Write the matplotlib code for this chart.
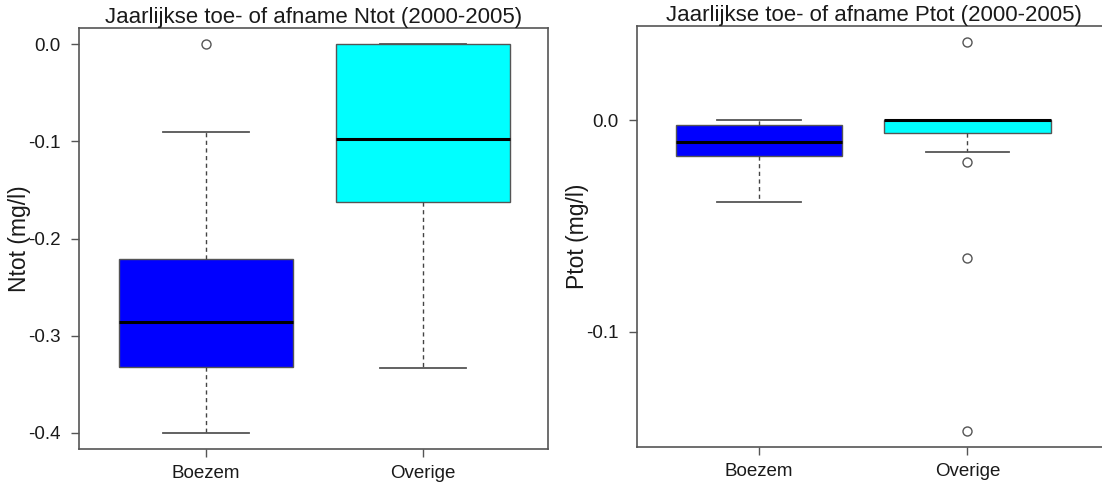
import matplotlib
matplotlib.use('Agg')
import matplotlib.pyplot as plt

plt.rcParams['font.family'] = ['Liberation Sans', 'DejaVu Sans']

groups = ['Boezem', 'Overige']
box_colors = ['#0000FF', '#00FFFF']

# Ntot: whisker low, q1, median, q3, whisker high, outliers
n_whislo = [-0.400, -0.333]
n_q1 = [-0.332, -0.1625]
n_med = [-0.2855, -0.0977]
n_q3 = [-0.221, 0.000]
n_whishi = [-0.0905, 0.000]
n_fliers = [[0.000], []]

# Ptot
p_whislo = [-0.0384, -0.0150]
p_q1 = [-0.0168, -0.0062]
p_med = [-0.0104, 0.0000]
p_q3 = [-0.0024, 0.0000]
p_whishi = [0.0000, 0.0000]
p_fliers = [[], [0.0372, -0.0199, -0.0653, -0.1471]]

n_ticks = [0.0, -0.1, -0.2, -0.3, -0.4]
p_ticks = [0.0, -0.1]

edge = '#555555'


def make_stats(lo, q1, med, q3, hi, fl):
    out = []
    for i in range(len(groups)):
        out.append(dict(whislo=lo[i], q1=q1[i], med=med[i], q3=q3[i],
                        whishi=hi[i], fliers=fl[i], label=groups[i]))
    return out


def draw(ax, stats, title, ylabel, ticks, ylim, xlim, title_pad, ylab_x):
    bp = ax.bxp(stats, positions=[1, 2], widths=0.8, patch_artist=True,
                showfliers=True,
                boxprops=dict(edgecolor=edge, linewidth=1.0),
                medianprops=dict(color='black', linewidth=2.2),
                whiskerprops=dict(color='#444444', linewidth=1.0,
                                  linestyle=(0, (3, 2.5))),
                capprops=dict(color='#555555', linewidth=1.3),
                capwidths=0.4,
                flierprops=dict(marker='o', markerfacecolor='white',
                                markeredgecolor='#555555', markersize=6.5,
                                markeredgewidth=1.0))
    for patch, c in zip(bp['boxes'], box_colors):
        patch.set_facecolor(c)
    ax.set_xlim(xlim)
    ax.set_ylim(ylim)
    ax.set_yticks(ticks)
    ax.set_yticklabels(['%.1f' % t for t in ticks])
    ax.set_xticks([1, 2])
    ax.set_xticklabels(groups)
    ax.tick_params(axis='both', labelsize=13.5, length=5.5, width=1.0,
                   color='#555555', labelcolor='#1a1a1a')
    ax.tick_params(axis='y', pad=7.5)
    ax.tick_params(axis='x', pad=6)
    for s in ax.spines.values():
        s.set_color('#555555')
        s.set_linewidth(1.2)
    ax.set_title(title, fontsize=16, pad=title_pad, color='#1a1a1a')
    ax.set_ylabel(ylabel, fontsize=16.5, color='#1a1a1a')
    ax.yaxis.set_label_coords(ylab_x, 0.5)


fig = plt.figure(figsize=(11.02, 4.83), dpi=100)
ax1 = fig.add_axes([79 / 1102, 1 - 449 / 483, 469 / 1102, 421 / 483])
ax2 = fig.add_axes([637 / 1102, 1 - 447 / 483, 473 / 1102, 421 / 483])

draw(ax1, make_stats(n_whislo, n_q1, n_med, n_q3, n_whishi, n_fliers),
     'Jaarlijkse toe- of afname Ntot (2000-2005)', 'Ntot (mg/l)',
     n_ticks, (-0.4165, 0.0165), (0.415, 2.576), 1.5, -0.102)
draw(ax2, make_stats(p_whislo, p_q1, p_med, p_q3, p_whishi, p_fliers),
     'Jaarlijkse toe- of afname Ptot (2000-2005)', 'Ptot (mg/l)',
     p_ticks, (-0.1545, 0.0446), (0.415, 2.684), 2.0, -0.101)

fig.savefig('out.png', dpi=100)
